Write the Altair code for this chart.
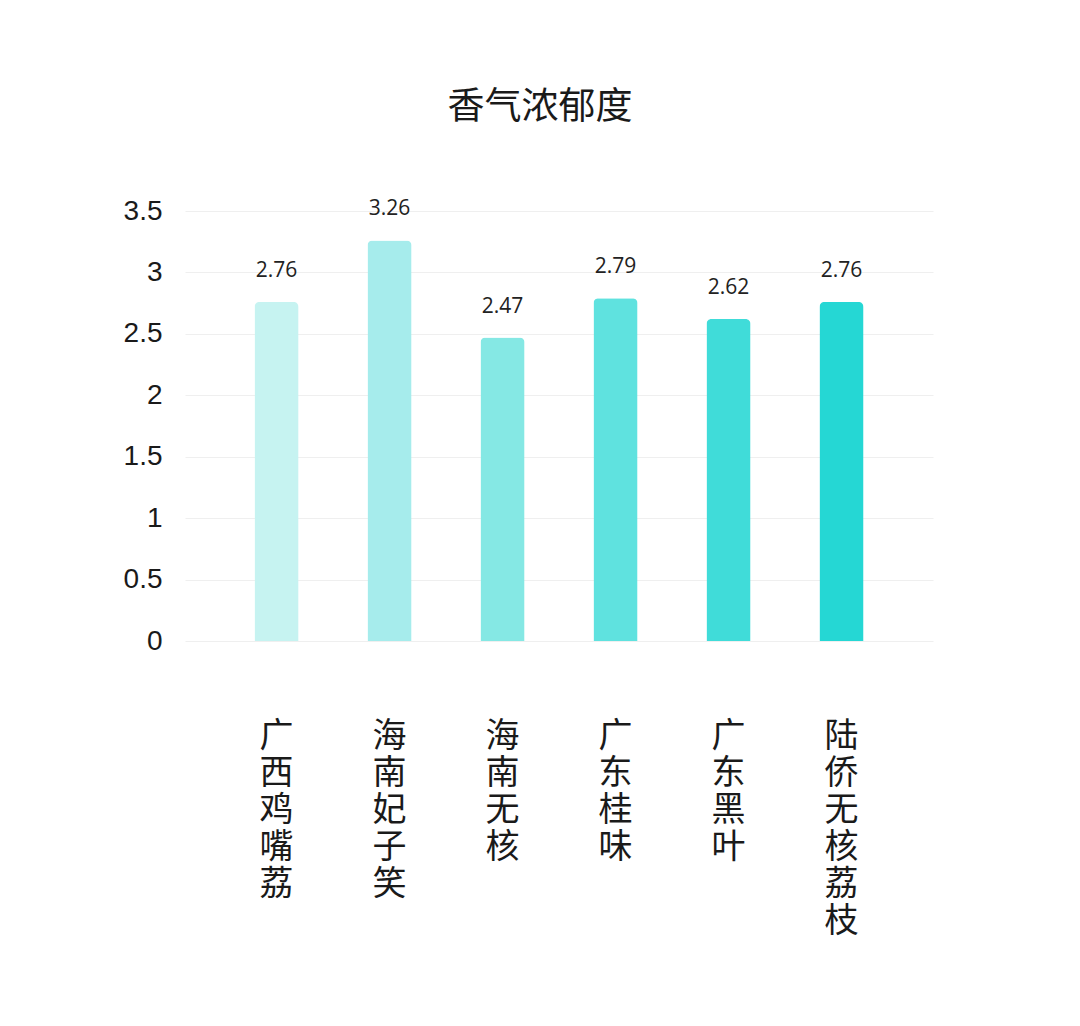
import altair as alt
import pandas as pd

# data
varieties = ['广西鸡嘴荔', '海南妃子笑', '海南无核', '广东桂味', '广东黑叶', '陆侨无核荔枝']
scores = [2.76, 3.26, 2.47, 2.79, 2.62, 2.76]
bar_colors = ['#C6F3F1', '#A6ECEC', '#85E8E4', '#5FE2DF', '#40DCD9', '#25D7D4']
y_ticks = [0, 0.5, 1, 1.5, 2, 2.5, 3, 3.5]

df = pd.DataFrame({'variety': varieties, 'score': scores, 'color': bar_colors})

# vertical category labels: one character per line
x_enc = alt.X('variety:N', sort=varieties, title=None,
              scale=alt.Scale(paddingInner=0.61, paddingOuter=0.615),
              axis=alt.Axis(labelAngle=0, labelExpr="split(datum.label, '')",
                            labelFont='Noto Sans CJK SC', labelFontSize=34,
                            labelLineHeight=37, labelBaseline='top',
                            labelPadding=78, labelColor='#1a1a1a',
                            ticks=False, domain=False, grid=False))

y_enc = alt.Y('score:Q', title=None,
              scale=alt.Scale(domain=[0, 3.5], nice=False),
              axis=alt.Axis(values=y_ticks, format='~g',
                            labelFont='Liberation Sans', labelFontSize=28,
                            labelColor='#1a1a1a', labelPadding=23,
                            ticks=False, domain=False,
                            gridColor='#efefef', gridWidth=1))

bars = alt.Chart(df).mark_bar(cornerRadiusTopLeft=5, cornerRadiusTopRight=5).encode(
    x=x_enc,
    y=y_enc,
    color=alt.Color('color:N', scale=None),
)

labels = alt.Chart(df).mark_text(
    baseline='bottom', dy=-21, font='Open Sans', fontSize=21, color='#222222'
).encode(
    x=alt.X('variety:N', sort=varieties),
    y='score:Q',
    text=alt.Text('score:Q', format='.2f'),
)

chart = alt.layer(bars, labels).properties(
    width=748,
    height=430,
    background='white',
    autosize=alt.AutoSizeParams(type='none'),
    padding={'left': 177, 'top': 203, 'right': 139, 'bottom': 370},
    title=alt.TitleParams('香气浓郁度', font='Noto Sans CJK SC', fontSize=37,
                          fontWeight='normal', color='#1a1a1a',
                          anchor='middle', dx=-19, offset=70),
).configure_view(strokeWidth=0)

chart.save('out.html', embed_options={'renderer': 'svg', 'actions': False})
